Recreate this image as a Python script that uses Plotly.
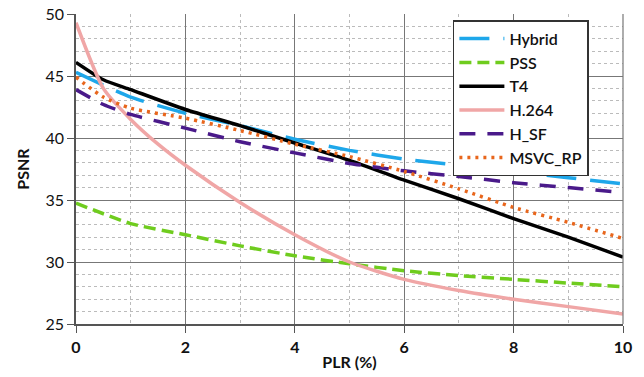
import plotly.graph_objects as go

x_hybrid = [0, 1, 2, 3, 4, 5, 6, 7, 8, 9, 10]
y_hybrid = [45.3, 43.3, 42.0, 41.0, 39.9, 39.0, 38.3, 37.8, 37.3, 36.8, 36.3]

x_pss = [0, 1, 2, 3, 4, 5, 6, 7, 8, 9, 10]
y_pss = [34.75, 33.1, 32.2, 31.3, 30.5, 29.85, 29.3, 28.9, 28.6, 28.3, 28.0]

x_t4 = [0, 0.5, 1, 2, 3, 4, 5, 6, 7, 8, 9, 10]
y_t4 = [46.1, 44.7, 43.9, 42.3, 41.0, 39.6, 38.2, 36.6, 35.1, 33.5, 32.0, 30.4]

x_h264 = [0, 0.5, 1, 1.5, 2, 3, 4, 5, 6, 7, 8, 9, 10]
y_h264 = [49.3, 44.0, 41.5, 39.5, 37.8, 34.8, 32.2, 30.0, 28.6, 27.7, 27.0, 26.4, 25.8]

x_hsf = [0, 0.5, 1, 2, 3, 4, 5, 6, 7, 8, 9, 10]
y_hsf = [43.9, 42.7, 41.9, 40.8, 39.7, 38.8, 37.95, 37.35, 36.9, 36.4, 36.0, 35.6]

x_msvc = [0, 0.5, 1, 2, 3, 4, 5, 6, 7, 8, 9, 10]
y_msvc = [44.9, 43.3, 42.4, 41.6, 40.6, 39.5, 38.5, 37.3, 35.9, 34.4, 33.2, 31.9]

series = [
    ("Hybrid", x_hybrid, y_hybrid, "#1ea7ea", "30px,14px", 3.5),
    ("PSS", x_pss, y_pss, "#6fcc1e", "12px,6px", 3.5),
    ("T4", x_t4, y_t4, "#000000", "solid", 3.5),
    ("H.264", x_h264, y_h264, "#f0a6a6", "solid", 3.5),
    ("H_SF", x_hsf, y_hsf, "#4a1a8a", "16px,12px", 3.5),
    ("MSVC_RP", x_msvc, y_msvc, "#e8661c", "3px,5px", 3.5),
]

fig = go.Figure()
for name, xs, ys, color, dash, w in series:
    fig.add_trace(go.Scatter(x=xs, y=ys, mode="lines", name=name,
                             line=dict(color=color, dash=dash, width=w, shape="spline", smoothing=0.6)))

font_family = "Lato"
fig.update_layout(
    width=644, height=377,
    margin=dict(l=76, r=21, t=14, b=53),
    plot_bgcolor="white", paper_bgcolor="white",
    font=dict(family=font_family, size=15, color="#111111"),
    legend=dict(x=0.689, y=0.98, xanchor="left", yanchor="top",
                bgcolor="white", bordercolor="#333333", borderwidth=1.5,
                font=dict(family=font_family, size=16, color="#111111", weight=600),
                tracegroupgap=0, itemwidth=45),
    showlegend=True,
)
fig.update_xaxes(
    range=[0, 10], dtick=2, tick0=0, automargin=False,
    showgrid=True, gridcolor="#777777", gridwidth=1.2,
    showline=True, linecolor="#555555", linewidth=1.5,
    ticks="outside", ticklen=7, tickcolor="#555555",
    ticklabelstandoff=1,
    tickfont=dict(family=font_family, size=16, weight="bold"),
    title=dict(text="PLR (%)", font=dict(family=font_family, size=16, weight="bold"), standoff=2),
    zeroline=False,
    minor=dict(dtick=1, showgrid=True, gridcolor="#bbbbbb", griddash="dot", gridwidth=1),
)
fig.update_yaxes(
    range=[25, 50], dtick=5, tick0=25, automargin=False,
    showgrid=True, gridcolor="#777777", gridwidth=1.2,
    showline=True, linecolor="#555555", linewidth=1.5,
    ticks="outside", ticklen=7, tickcolor="#555555",
    tickfont=dict(family=font_family, size=16),
    title=dict(text="PSNR", font=dict(family=font_family, size=16, weight="bold"), standoff=12),
    zeroline=False,
    minor=dict(dtick=1, showgrid=True, gridcolor="#bbbbbb", griddash="dot", gridwidth=1),
)
fig.add_shape(type="line", xref="paper", yref="paper", x0=1, x1=1, y0=0, y1=1,
              line=dict(color="#777777", width=1.2))

fig.write_html("out.html")
